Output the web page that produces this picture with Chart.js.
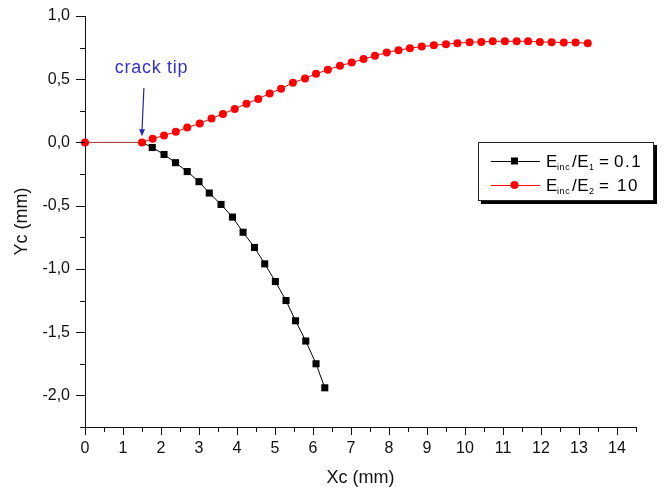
<!DOCTYPE html>
<html><head><meta charset="utf-8">
<script src="https://cdn.jsdelivr.net/npm/chart.js@4/dist/chart.umd.min.js"></script>
<style>html,body{margin:0;padding:0;background:#fff;}canvas{display:block;}</style>
</head><body>
<canvas id="c" width="666" height="492"></canvas>
<script>
// ---- data ----
const blackX = [0, 1.5, 1.77, 2.08, 2.38, 2.69, 3.0, 3.27, 3.58, 3.88, 4.16, 4.46, 4.73, 5.01, 5.29, 5.54, 5.81, 6.08, 6.31];
const blackY = [0, 0, -0.04, -0.095, -0.16, -0.23, -0.31, -0.40, -0.49, -0.59, -0.71, -0.83, -0.96, -1.10, -1.25, -1.41, -1.57, -1.75, -1.94];
const redX = [0, 1.5, 1.78, 2.08, 2.39, 2.69, 3.02, 3.33, 3.63, 3.94, 4.25, 4.56, 4.86, 5.16, 5.47, 5.79, 6.08, 6.39, 6.71, 7.02, 7.33, 7.63, 7.94, 8.25, 8.55, 8.86, 9.18, 9.50, 9.80, 10.12, 10.43, 10.73, 11.05, 11.36, 11.66, 11.97, 12.28, 12.60, 12.91, 13.23];
const redY = [0, 0, 0.03, 0.055, 0.084, 0.118, 0.15, 0.19, 0.226, 0.265, 0.307, 0.344, 0.388, 0.425, 0.472, 0.506, 0.543, 0.575, 0.606, 0.632, 0.659, 0.685, 0.711, 0.730, 0.745, 0.758, 0.769, 0.777, 0.785, 0.793, 0.795, 0.80, 0.80, 0.80, 0.80, 0.795, 0.793, 0.79, 0.79, 0.785];
const xTickValues = [0,1,2,3,4,5,6,7,8,9,10,11,12,13,14];
const xTickLabels = ['0','1','2','3','4','5','6','7','8','9','10','11','12','13','14'];
const yTickValues = [-2, -1.5, -1, -0.5, 0, 0.5, 1];
const yTickLabels = ['-2,0','-1,5','-1,0','-0,5','0,0','0,5','1,0'];
const seriesNames = [['E','inc','/E','1','=','0.1'], ['E','inc','/E','2','=','10']];
const annotationText = 'crack tip';
const crackTip = {x: 1.5, y: 0};

const FONT = "'Liberation Sans', Arial, sans-serif";

const ticksPlugin = {
  id: 'minorMajorTicks',
  afterDraw(chart) {
    const ctx = chart.ctx, xs = chart.scales.x, ys = chart.scales.y;
    ctx.save();
    ctx.strokeStyle = '#111';
    ctx.lineWidth = 1;
    ctx.beginPath();
    for (let v = xs.min; v <= xs.max + 1e-9; v += 0.5) {
      const px = Math.round(xs.getPixelForValue(v)) + 0.5;
      const len = Math.abs(v - Math.round(v)) < 1e-9 ? 8 : 5;
      ctx.moveTo(px, xs.top); ctx.lineTo(px, xs.top + len);
    }
    for (let v = ys.min; v <= ys.max + 1e-9; v += 0.25) {
      const py = Math.round(ys.getPixelForValue(v)) + 0.5;
      const isMajor = Math.abs(v * 2 - Math.round(v * 2)) < 1e-9;
      const len = isMajor ? 9 : 5;
      ctx.moveTo(ys.right, py); ctx.lineTo(ys.right - len, py);
    }
    ctx.stroke();
    ctx.restore();
  }
};

const annotPlugin = {
  id: 'annot',
  afterDraw(chart) {
    const ctx = chart.ctx, xs = chart.scales.x, ys = chart.scales.y;
    ctx.save();
    // crack tip label
    ctx.font = '18px ' + FONT;
    ctx.letterSpacing = '0.7px';
    ctx.fillStyle = '#3333cc';
    ctx.textAlign = 'center';
    ctx.textBaseline = 'alphabetic';
    ctx.fillText(annotationText, xs.getPixelForValue(crackTip.x + 0.25), ys.getPixelForValue(crackTip.y + 0.55));
    // arrow
    const x0 = xs.getPixelForValue(crackTip.x + 0.05), y0 = ys.getPixelForValue(crackTip.y + 0.43);
    const x1 = xs.getPixelForValue(crackTip.x), y1 = ys.getPixelForValue(crackTip.y + 0.05);
    ctx.strokeStyle = '#2424b0';
    ctx.fillStyle = '#2424b0';
    ctx.lineWidth = 1.2;
    ctx.beginPath(); ctx.moveTo(x0, y0); ctx.lineTo(x1, y1 - 5); ctx.stroke();
    ctx.beginPath(); ctx.moveTo(x1, y1); ctx.lineTo(x1 - 3, y1 - 7); ctx.lineTo(x1 + 3, y1 - 7); ctx.closePath(); ctx.fill();

    // legend
    const L = 478, T = 142, W = 176, H = 59;
    ctx.letterSpacing = '0px';
    ctx.fillStyle = '#000';
    ctx.fillRect(L + 3, T + 3, W, H);
    ctx.fillStyle = '#fff';
    ctx.fillRect(L, T, W, H);
    ctx.strokeStyle = '#222';
    ctx.lineWidth = 1;
    ctx.strokeRect(L + 0.5, T + 0.5, W - 1, H - 1);
    const rows = [{y: 161, color: '#000', style: 'rect'}, {y: 185, color: '#ff0000', style: 'circle'}];
    rows.forEach((r, i) => {
      ctx.strokeStyle = r.color; ctx.lineWidth = 1;
      ctx.beginPath(); ctx.moveTo(491, r.y + 0.5); ctx.lineTo(540, r.y + 0.5); ctx.stroke();
      ctx.fillStyle = r.color;
      if (r.style === 'rect') ctx.fillRect(511, r.y - 3.5, 7, 7);
      else { ctx.beginPath(); ctx.arc(514.5, r.y, 4, 0, Math.PI * 2); ctx.fill(); }
      const base = r.y + 6;
      const p = seriesNames[i];
      ctx.fillStyle = '#000';
      ctx.textAlign = 'left';
      ctx.textBaseline = 'alphabetic';
      ctx.font = '17px ' + FONT; ctx.letterSpacing = '0px'; ctx.fillText(p[0], 546, base);
      ctx.font = '9px ' + FONT; ctx.letterSpacing = '0.6px'; ctx.fillText(p[1], 557, base + 3);
      ctx.font = '17px ' + FONT; ctx.letterSpacing = '0.5px'; ctx.fillText(p[2], 572, base);
      ctx.font = '9px ' + FONT; ctx.letterSpacing = '0px'; ctx.fillText(p[3], 589, base + 3);
      ctx.font = '17px ' + FONT; ctx.fillText(p[4], 599, base);
      ctx.letterSpacing = '1.5px'; ctx.fillText(p[5], i === 0 ? 614 : 617, base);
      ctx.letterSpacing = '0px';
    });
    ctx.restore();
  }
};

new Chart(document.getElementById('c'), {
  type: 'scatter',
  data: {
    datasets: [
      {
        label: 'Einc/E1 = 0.1',
        data: blackX.map((x, i) => ({x, y: blackY[i]})),
        showLine: true,
        borderColor: '#000',
        borderWidth: 1,
        pointStyle: 'rect',
        pointRadius: (c) => c.dataIndex < 2 ? 0 : 5,
        pointBackgroundColor: '#000',
        pointBorderColor: '#000',
        pointBorderWidth: 0,
        order: 2,
        clip: false
      },
      {
        label: 'Einc/E2 = 10',
        data: redX.map((x, i) => ({x, y: redY[i]})),
        showLine: true,
        borderColor: '#ff0000',
        borderWidth: 1,
        segment: { borderColor: (c) => c.p0DataIndex === 0 ? '#b04848' : '#ff0000' },
        pointStyle: 'circle',
        pointRadius: 4,
        pointBackgroundColor: '#ff0000',
        pointBorderColor: '#ff0000',
        pointBorderWidth: 0,
        order: 1,
        clip: false
      }
    ]
  },
  options: {
    responsive: false,
    animation: false,
    devicePixelRatio: 1,
    layout: { padding: { top: 16, right: 30, bottom: 0, left: 0 } },
    plugins: { legend: { display: false }, tooltip: { enabled: false } },
    scales: {
      x: {
        type: 'linear', min: 0, max: 14.5,
        afterBuildTicks: (s) => { s.ticks = xTickValues.map(v => ({value: v})); },
        afterFit: (s) => { s.height = 65; s.paddingLeft = 0; s.paddingRight = 0; },
        grid: { display: false, drawTicks: false },
        border: { display: true, color: '#111', width: 1 },
        ticks: { padding: 12, autoSkip: false, maxRotation: 0, color: '#111', font: { family: FONT, size: 16 },
          callback: (v, i) => xTickLabels[i] },
        title: { display: true, text: 'Xc (mm)', color: '#111', font: { family: FONT, size: 18 }, padding: { top: 0, bottom: 3 } }
      },
      y: {
        type: 'linear', min: -2.25, max: 1.0,
        afterBuildTicks: (s) => { s.ticks = yTickValues.map(v => ({value: v})); },
        afterFit: (s) => { s.width = 85; s.paddingTop = 0; s.paddingBottom = 0; },
        grid: { display: false, drawTicks: false },
        border: { display: true, color: '#111', width: 1 },
        ticks: { padding: 15, autoSkip: false, color: '#111', font: { family: FONT, size: 16 },
          callback: (v, i) => yTickLabels[i] },
        title: { display: true, text: 'Yc (mm)', color: '#111', font: { family: FONT, size: 18 }, padding: { top: 11, bottom: 0 } }
      }
    }
  },
  plugins: [ticksPlugin, annotPlugin]
});
</script>
</body></html>
